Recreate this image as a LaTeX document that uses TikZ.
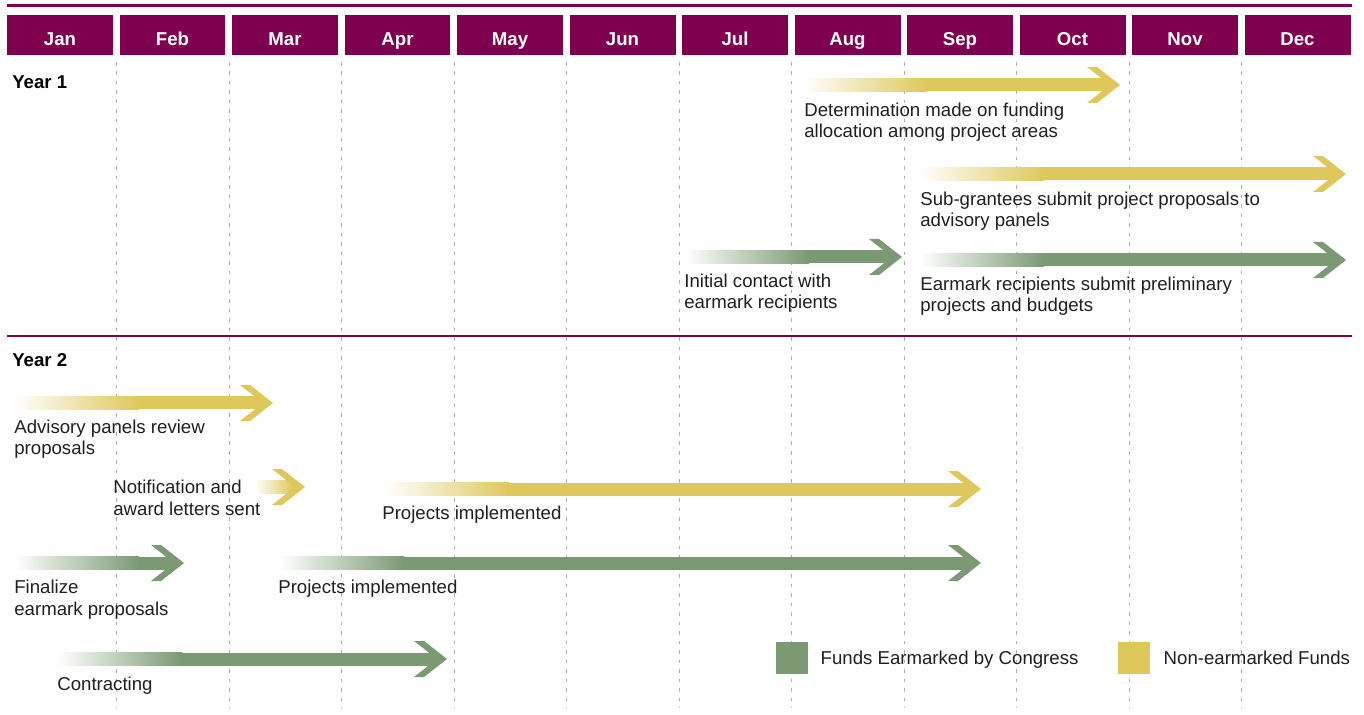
\documentclass[tikz,border=0pt]{standalone}
\usepackage{fontspec}
\setmainfont{Liberation Sans}
\usepackage{tikz}
\usetikzlibrary{positioning}

\definecolor{plum}{RGB}{128,0,80}
\definecolor{fundgold}{RGB}{222,200,92}
\definecolor{fundgreen}{RGB}{123,153,115}

% funding arrow: colour, y, start x, tip x (faded shaft + chevron head)
\newcommand{\fundarrow}[4]{%
  \pgfmathsetmacro{\gradend}{min(#3+124,#4-12)}%
  \shade[left color=white, right color=#1] (#3,#2-6.5) rectangle (\gradend,#2+6.5);
  \fill[#1] (\gradend,#2-6.5) rectangle (#4-9,#2+6.5);
  \fill[#1] (#4-33,#2-18) -- (#4-23,#2-18) -- (#4,#2) -- (#4-23,#2+18) -- (#4-33,#2+18) -- (#4-10,#2) -- cycle;
}

\begin{document}
\begin{tikzpicture}[x=0.02cm, y=-0.02cm, font=\fontsize{10.6}{12.5}\selectfont,
  month/.style={fill=plum, text=white, font=\fontsize{10.6}{12.5}\selectfont\bfseries, minimum width=2.12cm, minimum height=0.8cm, inner ysep=0pt, text height=11.4pt, text depth=0pt},
  lbl/.style={anchor=base west, align=left, inner sep=0pt, text=black!88},
  yr/.style={anchor=base west, inner sep=0pt, font=\fontsize{10.6}{12.5}\selectfont\bfseries},
  keytxt/.style={inner sep=0pt, text=black!88, text height=7.6pt, text depth=0pt},
  monthsep/.style={draw=black!32, line width=0.55pt, dash pattern=on 2pt off 3.4pt},
  yearrule/.style={draw=plum, line width=1.3pt},
  swatch/.style={minimum size=0.64cm, inner sep=0pt}]
\useasboundingbox (0,0) rectangle (1364,715);

% month header
\node[month] (jan) at (60,35) {Jan};
\node[month] (feb) at (172.5,35) {Feb};
\node[month] (mar) at (285,35) {Mar};
\node[month] (apr) at (397.5,35) {Apr};
\node[month] (may) at (510,35) {May};
\node[month] (jun) at (622.5,35) {Jun};
\node[month] (jul) at (735,35) {Jul};
\node[month] (aug) at (847.5,35) {Aug};
\node[month] (sep) at (960,35) {Sep};
\node[month] (oct) at (1072.5,35) {Oct};
\node[month] (nov) at (1185,35) {Nov};
\node[month] (dec) at (1297.5,35) {Dec};
\foreach \gx in {116.5,229.5,341.5,454.5,566.5,679.5,791.5,904.5,1016.5,1129.5,1241.5}
  \draw[monthsep] (\gx,62) -- (\gx,708);
\draw[yearrule] (7,5.5) -- (1352,5.5);
\draw[yearrule] (7,336) -- (1352,336);

% year 1 (two-line labels sit on their last baseline)
\node[yr] (year1) at (12,89) {Year 1};
\fundarrow{fundgold}{85}{803}{1120}
\node[lbl] (alloc) at (804,138) {Determination made on funding\\allocation among project areas};
\fundarrow{fundgold}{174}{920}{1346}
\node[lbl] (subgr) at (920,227) {Sub-grantees submit project proposals to\\advisory panels};
\fundarrow{fundgreen}{257}{685}{902}
\node[lbl] (contact) at (684,309) {Initial contact with\\earmark recipients};
\fundarrow{fundgreen}{260}{920}{1346}
\node[lbl] (prelim) at (920,312) {Earmark recipients submit preliminary\\projects and budgets};

% year 2
\node[yr] (year2) at (12,367) {Year 2};
\fundarrow{fundgold}{403}{15}{273}
\node[lbl] (review) at (14,455) {Advisory panels review\\proposals};
\fundarrow{fundgold}{487}{255}{305}
\node[lbl] (notify) at (113,515) {Notification and\\award letters sent};
\fundarrow{fundgold}{489}{385}{981}
\node[lbl] (implgold) at (382,519) {Projects implemented};
\fundarrow{fundgreen}{563}{15}{184}
\node[lbl] (finalize) at (14,615) {Finalize\\earmark proposals};
\fundarrow{fundgreen}{563}{280}{981}
\node[lbl] (implgreen) at (278,593) {Projects implemented};
\fundarrow{fundgreen}{659}{58}{447}
\node[lbl] (contract) at (57,690) {Contracting};

% key
\node[swatch, fill=fundgreen] (keygreen) at (792,658) {};
\node[keytxt, right=0.24cm of keygreen] (keygreentxt) {Funds Earmarked by Congress};
\node[swatch, fill=fundgold] (keygold) at (1134,658) {};
\node[keytxt, right=0.26cm of keygold] (keygoldtxt) {Non-earmarked Funds};
\end{tikzpicture}
\end{document}
